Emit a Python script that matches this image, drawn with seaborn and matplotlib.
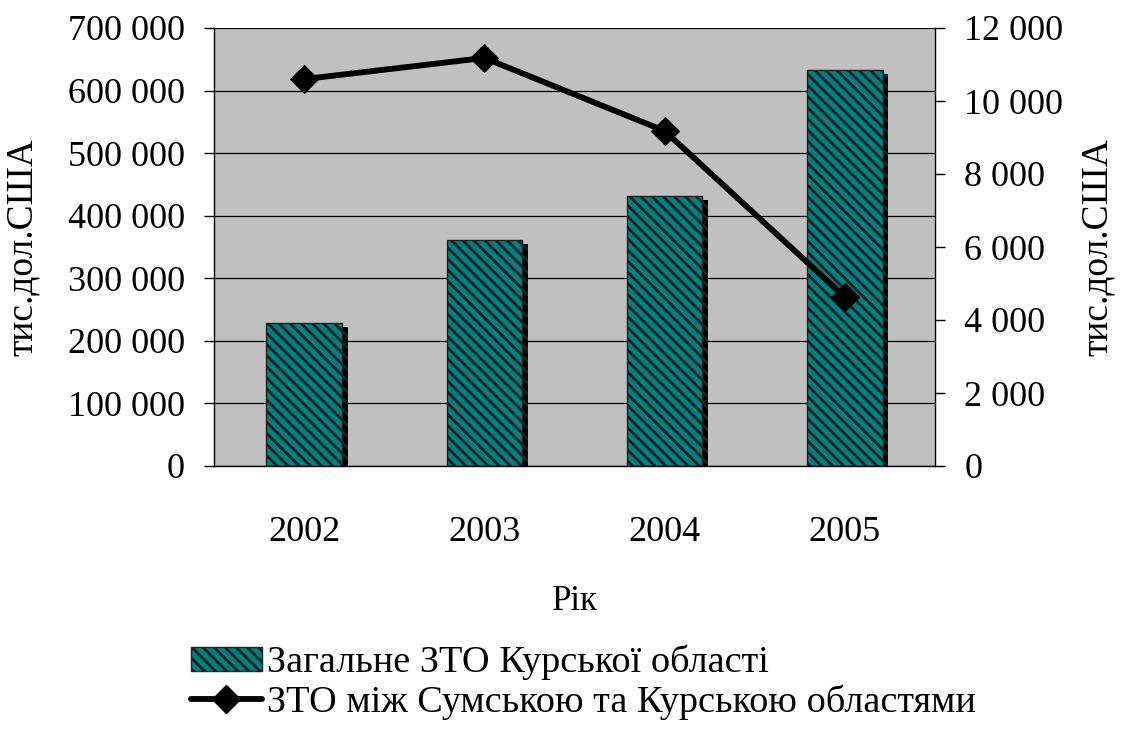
import matplotlib
matplotlib.use("Agg")
import matplotlib.pyplot as plt
import matplotlib.patheffects as pe
from matplotlib.patches import Patch
from matplotlib.lines import Line2D
from matplotlib.ticker import FuncFormatter, FixedLocator
import seaborn as sns
import pandas as pd

years = ["2002", "2003", "2004", "2005"]
total_kursk = [228500, 361000, 431500, 633000]
sumy_kursk = [10600, 11180, 9180, 4630]
bar_label = "Загальне ЗТО Курської області"
line_label = "ЗТО між Сумською та Курською областями"
y_label = "тис.дол.США"
x_label = "Рік"

sns.set_theme(style="white")
plt.rcParams["font.family"] = ["Liberation Serif", "DejaVu Serif"]
plt.rcParams["hatch.linewidth"] = 2.0
plt.rcParams["hatch.color"] = "black"
plt.rcParams["text.color"] = "black"
plt.rcParams["axes.labelcolor"] = "black"
plt.rcParams["xtick.color"] = "black"
plt.rcParams["ytick.color"] = "black"

df = pd.DataFrame({"year": years, "total": total_kursk, "sumy": sumy_kursk})

fig = plt.figure(figsize=(11.23, 7.39), dpi=100)
ax = fig.add_axes([214 / 1123, 1 - 466 / 739, (935 - 214) / 1123, (466 - 28) / 739])
ax.set_facecolor("#C0C0C0")

sns.barplot(data=df, x="year", y="total", ax=ax, color="#008080", width=0.42,
            saturation=1, edgecolor="#202020", linewidth=1)
for p in ax.patches:
    p.set_hatch("\\\\\\")
    p.set_path_effects([pe.SimplePatchShadow(offset=(4, -3), shadow_rgbFace="black", alpha=1.0),
                        pe.Normal()])

ax.set_ylim(0, 700000)
ax.set_xlim(-0.5, 3.5)
ax.yaxis.set_major_locator(FixedLocator(range(0, 700001, 100000)))
fmt = FuncFormatter(lambda v, _: f"{int(v):,}".replace(",", " "))
ax.yaxis.set_major_formatter(fmt)
ax.grid(axis="y", color="black", linewidth=0.9)
ax.set_axisbelow(True)

ax.set_xticks(range(4))
ax.set_xticklabels(years)
ax.tick_params(axis="x", which="major", length=0, pad=36, labelsize=26)
ax.set_xticks([-0.5, 0.5, 1.5, 2.5, 3.5], minor=True)
ax.tick_params(axis="x", which="minor", length=10, width=1, color="black", direction="out")
ax.tick_params(axis="y", length=7, width=1, color="black", direction="out", labelsize=26, pad=14, left=True)
ax.set_xlabel(x_label, fontsize=25, labelpad=26)
ax.set_ylabel(y_label, fontsize=27, labelpad=20)

for s in ["left", "bottom"]:
    ax.spines[s].set_color("black")
    ax.spines[s].set_linewidth(1)
ax.spines["top"].set_visible(False)
ax.spines["right"].set_visible(False)

ax2 = ax.twinx()
sns.lineplot(data=df, x="year", y="sumy", ax=ax2, color="black", linewidth=4.2,
             marker="D", markersize=14, markeredgecolor="black", sort=False)
ax2.set_ylim(0, 12000)
ax2.yaxis.set_major_locator(FixedLocator(range(0, 12001, 2000)))
ax2.yaxis.set_major_formatter(fmt)
ax2.tick_params(axis="y", length=7, width=1, color="black", direction="out", labelsize=26, pad=14, right=True)
ax2.set_ylabel(y_label, fontsize=27, labelpad=12)
ax2.set_xlabel("")
for s in ["left", "bottom", "top"]:
    ax2.spines[s].set_visible(False)
ax2.spines["right"].set_color("black")
ax2.spines["right"].set_linewidth(1)
ax2.grid(False)

handles = [
    Patch(facecolor="#008080", edgecolor="#202020", hatch="\\\\\\", label=bar_label),
    Line2D([0], [0], color="black", linewidth=4.2, marker="D", markersize=14, label=line_label),
]
fig.legend(handles=handles, loc="upper left", bbox_to_anchor=(168 / 1123, 1 - 622 / 739),
           frameon=False, fontsize=27.5, handlelength=1.85, handleheight=0.6, handletextpad=0.15,
           labelspacing=0.1, borderpad=0.1)

fig.savefig("out.png", dpi=100)
